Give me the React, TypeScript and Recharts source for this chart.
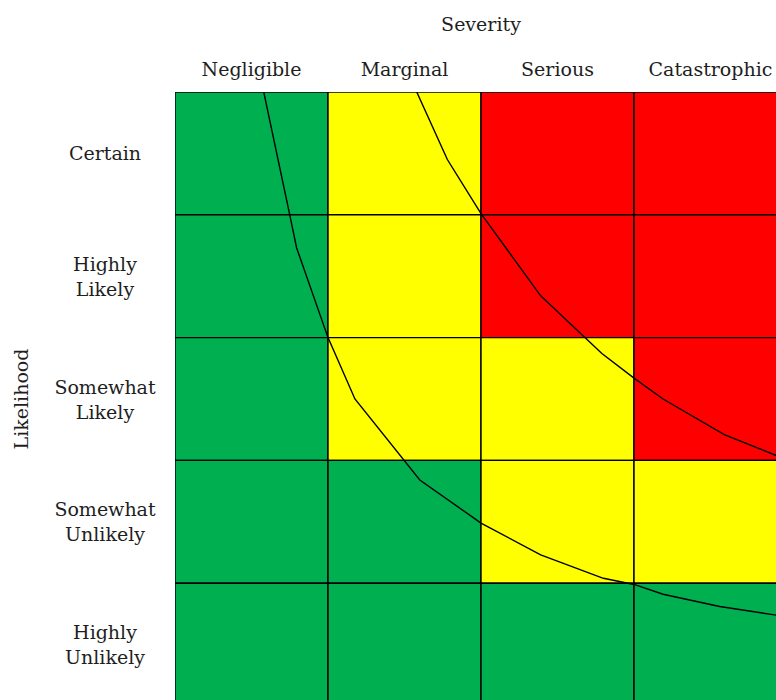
import React from 'react';
import { ComposedChart, XAxis, YAxis, ReferenceArea, Line } from 'recharts';

const SEVERITY = ['Negligible', 'Marginal', 'Serious', 'Catastrophic'];
const LIKELIHOOD = ['Certain', 'Highly Likely', 'Somewhat Likely', 'Somewhat Unlikely', 'Highly Unlikely'];

// risk level per cell, rows from Certain (top) down, columns Negligible..Catastrophic
const RISK = [
  ['low', 'mid', 'high', 'high'],
  ['low', 'mid', 'high', 'high'],
  ['low', 'mid', 'mid', 'high'],
  ['low', 'low', 'mid', 'mid'],
  ['low', 'low', 'low', 'low'],
];

// iso-risk boundary curves (x = severity units, y = likelihood rows from top)
const lowCurveX = [0.58, 0.75, 0.795, 1.0, 1.176, 1.6, 2.0, 2.39, 2.8, 3.0, 3.19, 3.56, 3.93];
const lowCurveY = [0, 1.0, 1.27, 2.0, 2.5, 3.16, 3.51, 3.77, 3.96, 4.01, 4.09, 4.19, 4.26];
const highCurveX = [1.58, 1.78, 2.0, 2.39, 2.79, 3.0, 3.19, 3.59, 3.93];
const highCurveY = [0, 0.55, 0.99, 1.66, 2.13, 2.33, 2.5, 2.79, 2.96];

const X_MAX = 3.928;
const Y_MAX = 4.951;

const COLORS: Record<string, string> = { low: '#00B050', mid: '#FFFF00', high: '#FF0000' };
const FONT = 'DejaVu Serif';
const TEXT = '#1e1e1e';

const lowCurve = lowCurveX.map((x, i) => ({ x, y: lowCurveY[i] }));
const highCurve = highCurveX.map((x, i) => ({ x, y: highCurveY[i] }));

const ColTick = ({ x, y, payload }: any) => (
  <text x={x} y={y - 16} textAnchor="middle" fontFamily={FONT} fontSize={19} fill={TEXT}>
    {SEVERITY[Math.floor(payload.value)]}
  </text>
);

const RowTick = ({ x, y, payload }: any) => {
  const lines = LIKELIHOOD[Math.floor(payload.value)].split(' ');
  return (
    <text textAnchor="middle" fontFamily={FONT} fontSize={19} fill={TEXT}>
      {lines.map((l, i) => (
        <tspan key={i} x={x - 70} y={y + 7 + (i - (lines.length - 1) / 2) * 25}>
          {l}
        </tspan>
      ))}
    </text>
  );
};

export default function App() {
  return (
    <div style={{ position: 'fixed', top: 0, left: 0, width: 776, height: 700, background: '#fff' }}>
      <ComposedChart width={776} height={700} margin={{ top: 0, right: 0, bottom: 0, left: 0 }}>
        <XAxis
          xAxisId={0}
          type="number"
          dataKey="x"
          orientation="top"
          domain={[0, X_MAX]}
          allowDataOverflow
          ticks={[0.5, 1.5, 2.5, 3.5]}
          height={92}
          axisLine={false}
          tickLine={false}
          tickSize={0}
          tickMargin={0}
          tick={<ColTick />}
          label={{
            content: ({ viewBox }: any) => (
              <text
                x={viewBox.x + (viewBox.width * 2) / X_MAX}
                y={viewBox.y + 31}
                textAnchor="middle"
                fontFamily={FONT}
                fontSize={19}
                fill={TEXT}
              >
                Severity
              </text>
            ),
          }}
        />
        <YAxis
          yAxisId={0}
          type="number"
          dataKey="y"
          reversed
          domain={[0, Y_MAX]}
          allowDataOverflow
          ticks={[0.5, 1.5, 2.5, 3.5, 4.5]}
          width={175}
          axisLine={false}
          tickLine={false}
          tickSize={0}
          tickMargin={0}
          tick={<RowTick />}
          label={{
            content: ({ viewBox }: any) => {
              const cy = viewBox.y + (viewBox.height * 2.5) / Y_MAX;
              return (
                <text
                  x={28}
                  y={cy}
                  transform={`rotate(-90 28 ${cy})`}
                  textAnchor="middle"
                  fontFamily={FONT}
                  fontSize={19}
                  fill={TEXT}
                >
                  Likelihood
                </text>
              );
            },
          }}
        />
        {RISK.map((row, r) =>
          row.map((level, c) => (
            <ReferenceArea
              key={`${r}-${c}`}
              x1={c}
              x2={c + 1}
              y1={r}
              y2={r + 1}
              fill={COLORS[level]}
              fillOpacity={1}
              stroke="#000"
              strokeWidth={1.4}
              ifOverflow="hidden"
            />
          ))
        )}
        <Line
          data={lowCurve}
          dataKey="y"
          type="linear"
          stroke="#000"
          strokeWidth={1.4}
          dot={false}
          isAnimationActive={false}
        />
        <Line
          data={highCurve}
          dataKey="y"
          type="linear"
          stroke="#000"
          strokeWidth={1.4}
          dot={false}
          isAnimationActive={false}
        />
      </ComposedChart>
    </div>
  );
}
